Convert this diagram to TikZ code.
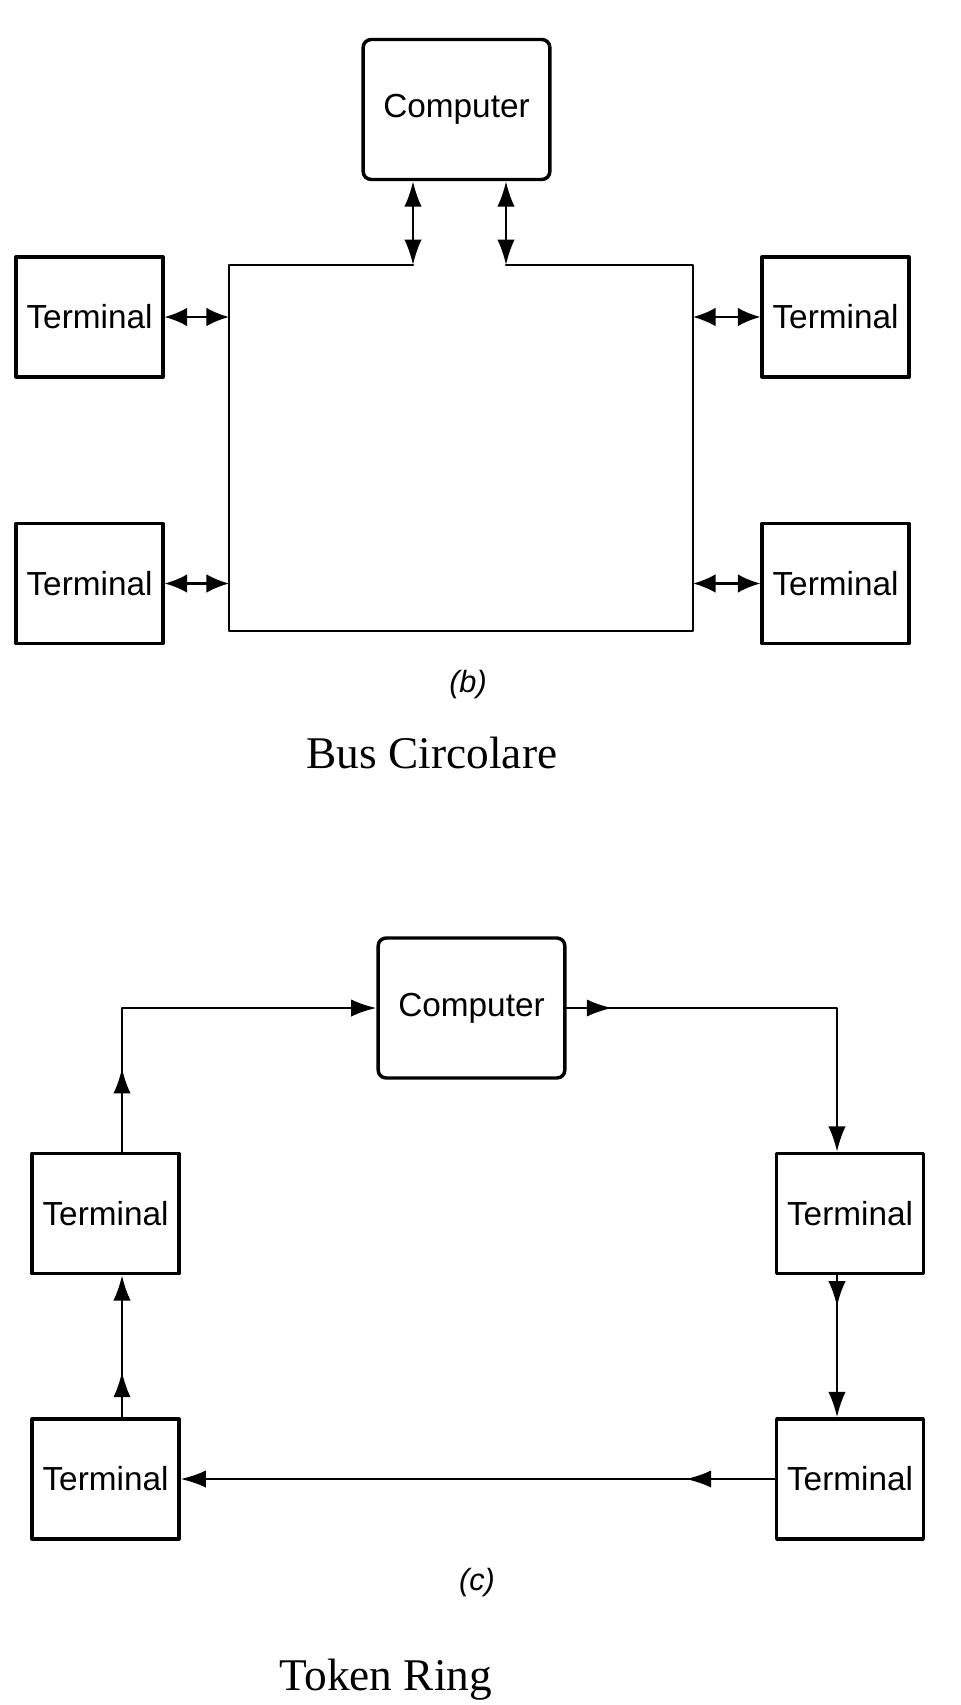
\documentclass[tikz,border=0pt]{standalone}
\usepackage{fontspec}
\setmainfont{Liberation Serif}
\newfontfamily\boxfont{Liberation Sans}
\usetikzlibrary{arrows.meta,calc,decorations.markings}

\begin{document}
\begin{tikzpicture}[x=0.75pt,y=-0.75pt,line cap=round,line join=round,
    >={Latex[length=19pt,width=13pt]},
    term/.style={draw,line width=2.6pt,minimum width=110pt,minimum height=90pt,inner sep=0pt,
      font=\boxfont\fontsize{25}{30}\selectfont},
    host/.style={term,rounded corners=6pt,minimum width=140pt,minimum height=105pt},
    link/.style={line width=1.7pt},
    bus/.style={line width=2pt},
    midtip/.style={postaction=decorate,
      decoration={markings,mark=at position #1 with {\arrow{>}}}},
    caption/.style={font=\boxfont\itshape\fontsize{23}{26}\selectfont},
    title/.style={font=\fontsize{34}{40}\selectfont,anchor=base}]
  \useasboundingbox (0,0) rectangle (960,1705);

  % (b) bus circolare
  \node[host] (pc1) at (456.5,109.5) {Computer};
  \node[term] (ta) at (89.5,317) {Terminal};
  \node[term] (tb) at (89.5,583.5) {Terminal};
  \node[term] (tc) at (835.5,317) {Terminal};
  \node[term] (td) at (835.5,583.5) {Terminal};
  \coordinate (bnw) at (229,265);
  \coordinate (bse) at (693,631);
  \coordinate (g1) at (413,265);
  \coordinate (g2) at (506,265);
  \draw[bus] (g1) -- (bnw) |- (bse) |- (g2);
  \draw[link,<->] (pc1.south -| g1) -- (g1);
  \draw[link,<->] (pc1.south -| g2) -- (g2);
  \begin{scope}[>={Latex[length=17pt,width=14pt]}]
    \draw[link,<->] (ta.east) -- (ta.east -| bnw);
    \draw[link,<->] (tb.east) -- (tb.east -| bnw);
    \draw[link,<->] (tc.west) -- (tc.west -| bse);
    \draw[link,<->] (td.west) -- (td.west -| bse);
  \end{scope}
  \node[caption] (capb) at (468,685) {(b)};
  \node[title] (titleb) at (432,768) {Bus Circolare};

  % (c) token ring
  \node[host] (pc2) at (471.5,1008) {Computer};
  \node[term] (t1) at (105.5,1213.5) {Terminal};
  \node[term] (t2) at (850,1213.5) {Terminal};
  \node[term] (t3) at (105.5,1479) {Terminal};
  \node[term] (t4) at (850,1479) {Terminal};
  \coordinate (lx) at (122,1008);
  \coordinate (rx) at (837,1008);
  \draw[link,->,midtip=0.32] (t3.north -| lx) -- (t1.south -| lx);
  \draw[link,->,midtip=0.21] (t1.north -| lx) -- (lx) -- (pc2.west);
  \draw[link,->,midtip=0.11] (pc2.east) -- (rx) -- (t2.north -| rx);
  \draw[link,->,midtip=0.22] (t2.south -| rx) -- (t4.north -| rx);
  \draw[link,->,midtip=0.15] (t4.west) -- (t3.east);
  \node[caption] (capc) at (477,1583) {(c)};
  \node[title] (titlec) at (386,1690) {Token Ring};
\end{tikzpicture}
\end{document}
